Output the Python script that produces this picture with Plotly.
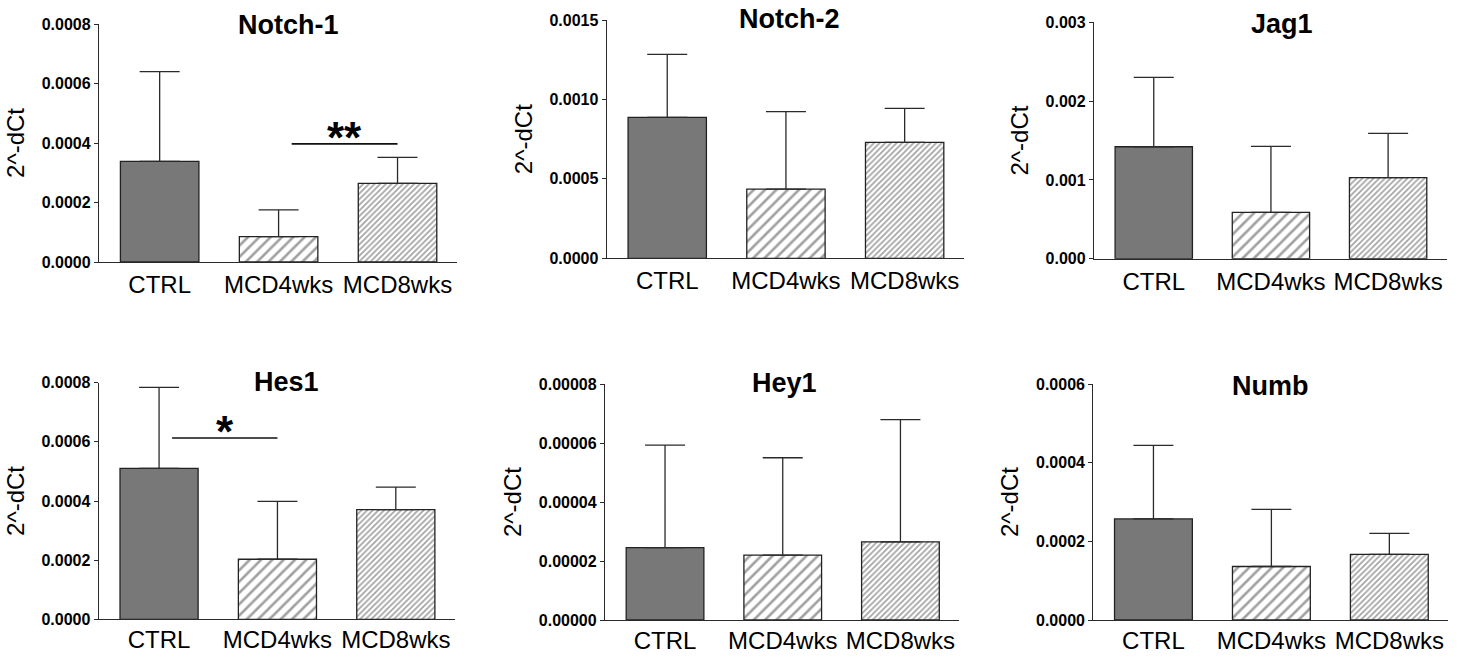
import plotly.graph_objects as go

W, H = 1463, 659

groups = ["CTRL", "MCD4wks", "MCD8wks"]
genes = ["Notch-1", "Notch-2", "Jag1", "Hes1", "Hey1", "Numb"]

notch1_mean = [0.000338, 0.000085, 0.000264]
notch1_err = [0.000302, 0.000090, 0.000088]
notch2_mean = [0.000887, 0.000436, 0.000730]
notch2_err = [0.000397, 0.000487, 0.000214]
jag1_mean = [0.001421, 0.000589, 0.001028]
jag1_err = [0.000881, 0.000837, 0.000563]
hes1_mean = [0.000510, 0.000203, 0.000371]
hes1_err = [0.000274, 0.000196, 0.000076]
hey1_mean = [0.0000245, 0.0000220, 0.0000265]
hey1_err = [0.0000348, 0.0000330, 0.0000414]
numb_mean = [0.000257, 0.000136, 0.000167]
numb_err = [0.000187, 0.000145, 0.000053]

y_max = [0.0008, 0.0015, 0.003, 0.0008, 0.00008, 0.0006]
y_dtick = [0.0002, 0.0005, 0.001, 0.0002, 0.00002, 0.0002]
y_format = [".4f", ".4f", ".3f", ".4f", ".5f", ".4f"]

# significance brackets: (panel index, group a, group b, y level, label)
sig_panel = [0, 3]
sig_from = [1, 0]
sig_to = [2, 1]
sig_level = [0.000397, 0.000613]
sig_label = ["**", "*"]

means = [notch1_mean, notch2_mean, jag1_mean, hes1_mean, hey1_mean, numb_mean]
errs = [notch1_err, notch2_err, jag1_err, hes1_err, hey1_err, numb_err]

# layout (pixel boxes of plot areas)
x_px = [(99, 457), (606.7, 964), (1094, 1446.7), (98.7, 455), (605, 959.3), (1093.3, 1448.3)]
y_px = [(24, 262), (20, 258.3), (22.3, 258.7), (382.7, 619.3), (384, 620), (384, 620)]
title_px = [(288, 25), (789, 19), (1282, 24), (286, 382), (784, 382.5), (1270, 386)]
xlabel_standoff = [1, 1, 1, -1, -1, -1]

FONT = "Arial, 'Liberation Sans', Helvetica, sans-serif"
AX = "#2a2a2a"

fig = go.Figure()
layout = dict(
    width=W, height=H, margin=dict(l=0, r=0, t=0, b=0, autoexpand=False),
    paper_bgcolor="white", plot_bgcolor="white", showlegend=False,
    barmode="overlay", font=dict(family=FONT, color="black"),
)
annotations = []
shapes = []

for i in range(6):
    sfx = "" if i == 0 else str(i + 1)
    xa, ya = "x" + sfx, "y" + sfx
    fig.add_trace(go.Bar(
        x=groups, y=means[i], xaxis=xa, yaxis=ya, width=0.66,
        marker=dict(
            color=["#787878", "#ffffff", "#ffffff"],
            line=dict(color="#222222", width=1.3),
            pattern=dict(shape=["", "/", "/"], size=[8, 8, 4], solidity=[0.3, 0.33, 0.42],
                         fgcolor="#666666", fillmode="overlay"),
        ),
        error_y=dict(type="data", symmetric=False, array=errs[i], arrayminus=[0, 0, 0],
                     width=20, thickness=1.3, color=AX),
    ))
    x0, x1 = x_px[i]
    yt, yb = y_px[i]
    layout["xaxis" + sfx] = dict(
        domain=[x0 / W, x1 / W], anchor=ya, type="category", range=[-0.51, 2.5],
        showline=True, linecolor=AX, linewidth=1.3, ticks="", showgrid=False,
        zeroline=False, tickfont=dict(size=24, family=FONT, color="black"),
        ticklabelstandoff=xlabel_standoff[i], fixedrange=True, automargin=False,
    )
    layout["yaxis" + sfx] = dict(
        domain=[1 - yb / H, 1 - yt / H], anchor=xa, range=[0, y_max[i]],
        dtick=y_dtick[i], tick0=0, tickformat=y_format[i],
        showline=True, linecolor=AX, linewidth=1.3, ticks="outside", ticklen=4,
        tickwidth=1.3, tickcolor=AX, showgrid=False, zeroline=False,
        tickfont=dict(size=16, family=FONT, color="black", weight="bold"),
        title=dict(text="2^-dCt", font=dict(size=24, family=FONT, color="black"), standoff=10),
        fixedrange=True, automargin=False,
    )
    tx, ty = title_px[i]
    annotations.append(dict(
        text="<b>" + genes[i] + "</b>", x=tx / W, y=1 - ty / H, xref="paper", yref="paper",
        xanchor="center", yanchor="middle", showarrow=False,
        font=dict(size=27, family=FONT, color="black"),
    ))

for k in range(len(sig_panel)):
    p = sig_panel[k]
    sfx = "" if p == 0 else str(p + 1)
    xa, ya = "x" + sfx, "y" + sfx
    a, b = sig_from[k], sig_to[k]
    shapes.append(dict(type="line", xref=xa, yref=ya, x0=a + 0.11, x1=b, y0=sig_level[k], y1=sig_level[k],
                       line=dict(color="#111111", width=1.6)))
    annotations.append(dict(
        text="<b>" + sig_label[k] + "</b>", x=(a + 0.11 + b) / 2, y=sig_level[k], xref=xa, yref=ya,
        xanchor="center", yanchor="bottom", yshift=-20, showarrow=False,
        font=dict(size=44, family=FONT, color="black"),
    ))

layout["annotations"] = annotations
layout["shapes"] = shapes
fig.update_layout(**layout)
fig.write_html(
    "out.html",
    config={"displayModeBar": False},
    post_script="document.body.style.margin='0';document.body.style.padding='0';document.body.style.overflow='hidden';",
)
